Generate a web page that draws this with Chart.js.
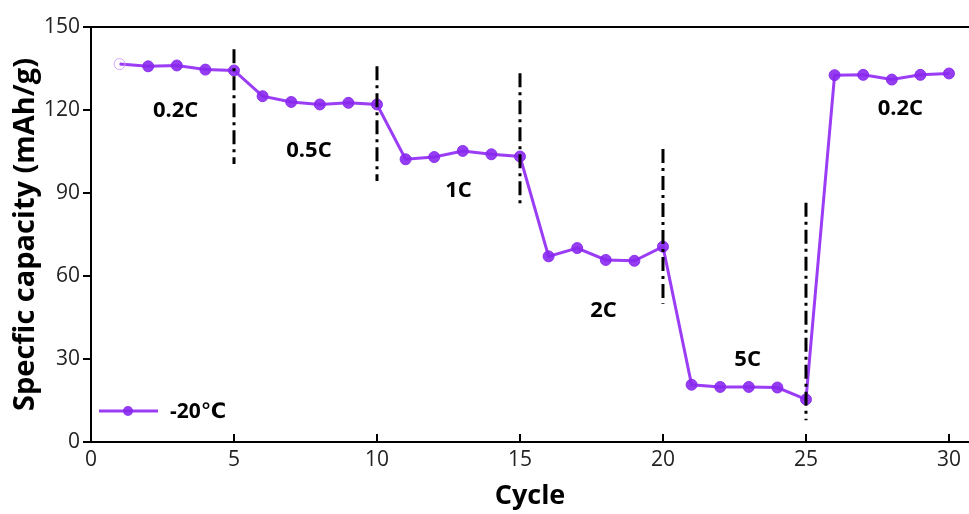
<!DOCTYPE html>
<html>
<head>
<meta charset="utf-8">
<script src="https://cdn.jsdelivr.net/npm/chart.js@4/dist/chart.umd.min.js"></script>
<style>
html,body{margin:0;padding:0;background:#fff;}
#wrap{width:969px;height:514px;}
</style>
</head>
<body>
<div id="wrap"><canvas id="c" width="969" height="514"></canvas></div>
<script>
// ---- data ----
const cycles = [1,2,3,4,5,6,7,8,9,10,11,12,13,14,15,16,17,18,19,20,21,22,23,24,25,26,27,28,29,30];
const capacity = [136.6,135.8,136.1,134.6,134.3,125.0,122.9,122.0,122.6,122.0,102.2,103.0,105.2,104.0,103.2,67.1,70.1,65.8,65.5,70.6,20.7,19.9,19.9,19.7,15.4,132.6,132.7,131.0,132.7,133.2];
const seriesLabel = '-20℃';
const xTicks = [0,5,10,15,20,25,30];
const yTicks = [0,30,60,90,120,150];
const dividerX = [5,10,15,20,25];
const dividerTop = [142,135.8,133.3,105.9,86.5];
const dividerBottom = [100.5,94.3,86.1,50,7.9];
const rateLabels = ['0.2C','0.5C','1C','2C','5C','0.2C'];
const rateX = [2.96,7.62,12.85,17.92,22.96,28.3];
const rateY = [119.6,105.2,90.8,47.5,29.6,120.3];

const FONT = "'Open Sans', 'DejaVu Sans', sans-serif";
const LINE_COLOR = '#9B3DF5';
const POINT_COLOR = 'rgba(137,40,238,0.9)';

const pointBg = capacity.map((v,i)=> i===0 ? 'rgba(255,255,255,0)' : POINT_COLOR);
const pointBorder = capacity.map((v,i)=> i===0 ? '#D7A6F7' : POINT_COLOR);

const decor = {
  id:'decor',
  afterDatasetsDraw(chart){
    const {ctx, chartArea:a, scales:{x,y}} = chart;
    ctx.save();
    // top border
    ctx.strokeStyle='#000'; ctx.lineWidth=2;
    ctx.beginPath(); ctx.moveTo(a.left, a.top); ctx.lineTo(a.right, a.top); ctx.stroke();
    // inward x ticks
    xTicks.forEach(v=>{
      const px = Math.round(x.getPixelForValue(v));
      ctx.beginPath(); ctx.moveTo(px, a.bottom); ctx.lineTo(px, a.bottom-8); ctx.stroke();
    });
    // dash-dot dividers
    ctx.lineWidth=3;
    ctx.setLineDash([14,5,3,5]);
    dividerX.forEach((v,i)=>{
      const px = x.getPixelForValue(v);
      ctx.beginPath();
      ctx.moveTo(px, y.getPixelForValue(dividerTop[i]));
      ctx.lineTo(px, y.getPixelForValue(dividerBottom[i]));
      ctx.stroke();
    });
    ctx.setLineDash([]);
    // rate labels
    ctx.fillStyle='#000';
    ctx.font = "bold 22px " + FONT;
    ctx.textAlign='center'; ctx.textBaseline='middle';
    rateLabels.forEach((t,i)=>{
      ctx.fillText(t, x.getPixelForValue(rateX[i]), y.getPixelForValue(rateY[i]));
    });
    // legend
    const ly = a.bottom - 31;
    ctx.strokeStyle = LINE_COLOR; ctx.lineWidth = 3;
    ctx.beginPath(); ctx.moveTo(a.left+8, ly); ctx.lineTo(a.left+67, ly); ctx.stroke();
    ctx.fillStyle = POINT_COLOR;
    ctx.beginPath(); ctx.arc(a.left+37, ly, 5, 0, Math.PI*2); ctx.fill();
    ctx.fillStyle='#000';
    ctx.font = "bold 21px " + FONT;
    ctx.textAlign='left';
    ctx.fillText(chart.data.datasets[0].label, a.left+79, ly+1);
    ctx.restore();
  }
};

new Chart(document.getElementById('c'), {
  type:'line',
  data:{
    datasets:[{
      label: seriesLabel,
      data: cycles.map((c,i)=>({x:c, y:capacity[i]})),
      borderColor: LINE_COLOR,
      borderWidth: 3,
      pointRadius: 5.5,
      pointBackgroundColor: pointBg,
      pointBorderColor: pointBorder,
      pointBorderWidth: 1,
      tension: 0
    }]
  },
  options:{
    responsive:false,
    animation:false,
    devicePixelRatio:1,
    layout:{autoPadding:false, padding:{top:27,right:0,left:0,bottom:0}},
    plugins:{legend:{display:false}, tooltip:{enabled:false}},
    scales:{
      x:{
        type:'linear', min:0, max:30.7,
        afterBuildTicks: s => { s.ticks = xTicks.map(v=>({value:v})); },
        afterFit: s => { s.height = 72; s.paddingRight = 0; s.paddingLeft = 0; },
        grid:{display:false, drawTicks:false},
        border:{display:true, color:'#000', width:2},
        ticks:{color:'#222', font:{family:FONT, size:21}, padding:5, maxRotation:0},
        title:{display:true, text:'Cycle', color:'#000', font:{family:FONT, size:27, weight:'bold'}, padding:{top:0,bottom:1}}
      },
      y:{
        min:0, max:150,
        afterBuildTicks: s => { s.ticks = yTicks.map(v=>({value:v})); },
        afterFit: s => { s.width = 91; },
        grid:{drawOnChartArea:false, drawTicks:true, tickLength:8, color:'#000', lineWidth:2},
        border:{display:true, color:'#000', width:2},
        ticks:{color:'#222', font:{family:FONT, size:21}, padding:3},
        title:{display:true, text:'Specfic capacity (mAh/g)', color:'#000', font:{family:FONT, size:29, weight:'bold'}, padding:{top:8,bottom:0}}
      }
    }
  },
  plugins:[decor]
});
</script>
</body>
</html>
